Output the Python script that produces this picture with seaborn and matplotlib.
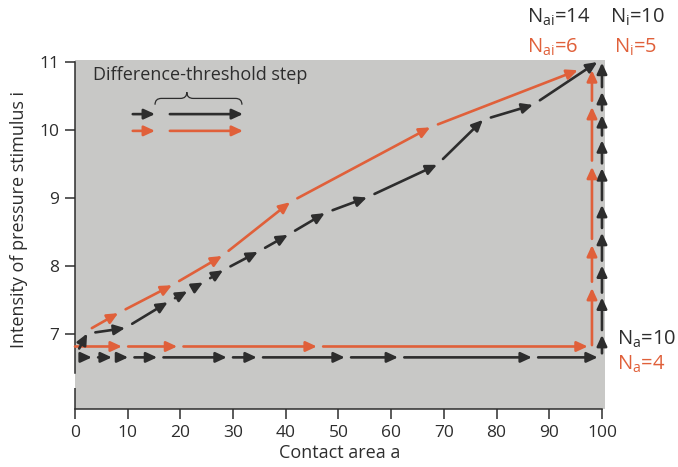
import numpy as np
import matplotlib.pyplot as plt
import seaborn as sns
from matplotlib.path import Path
from matplotlib.patches import PathPatch

# === DATA ===
# stepwise path along contact area a (intensity held constant)
black_a_steps = [1.3, 3.2, 7.0, 10.1, 15.6, 28.8, 34.5, 51.2, 61.3, 86.7, 99.2]
black_a_level = 6.66
red_a_steps = [0.0, 8.9, 19.4, 45.9, 97.3]
red_a_level = 6.82

# stepwise path along intensity i (contact area held constant)
black_i_steps = [6.72, 6.99, 7.54, 8.01, 8.49, 8.90, 9.44, 9.85, 10.22, 10.56, 10.99]
black_i_level = 100.0
red_i_steps = [6.84, 7.68, 8.31, 9.46, 10.34, 10.88]
red_i_level = 98.1

# combined path (a and i changing together)
black_ai_a = [0.8, 2.3, 9.5, 17.6, 21.3, 24.3, 28.1, 34.7, 40.4, 47.4, 55.4, 68.7, 77.4, 86.9, 99.1]
black_ai_i = [6.79, 7.01, 7.09, 7.47, 7.63, 7.76, 7.94, 8.21, 8.46, 8.78, 9.01, 9.49, 10.15, 10.37, 11.0]
red_ai_a = [3.2, 8.2, 18.4, 27.9, 40.8, 67.4, 95.4]
red_ai_i = [7.09, 7.31, 7.72, 8.15, 8.94, 10.04, 10.88]

x_ticks = [0, 10, 20, 30, 40, 50, 60, 70, 80, 90, 100]
y_ticks = [7, 8, 9, 10, 11]

black_counts = {"ai": 14, "i": 10, "a": 10}
red_counts = {"ai": 6, "i": 5, "a": 4}

# === STYLE ===
DARK = "#2d2d2d"
RED = "#e0603a"
BG = "#c8c8c6"
FONT = "Open Sans"

sns.set_theme(style="ticks")
plt.rcParams['font.family'] = [FONT, 'DejaVu Sans']
plt.rcParams['mathtext.fontset'] = 'custom'
plt.rcParams['mathtext.rm'] = FONT

fig = plt.figure(figsize=(6.78, 4.67), dpi=100)
ax = fig.add_axes([0.1106, 0.124, 0.7817, 0.7475])
ax.set_facecolor(BG)
ax.set_xlim(0, 100.57)
ax.set_ylim(5.90, 11.03)


def draw_steps(xs, ys, color, gap):
    for k in range(len(xs) - 1):
        ax.annotate("", xy=(xs[k + 1], ys[k + 1]), xytext=(xs[k], ys[k]),
                    xycoords="data", annotation_clip=False,
                    arrowprops=dict(arrowstyle="-|>,head_length=0.65,head_width=0.3",
                                    color=color, lw=1.9, mutation_scale=10,
                                    shrinkA=0 if k == 0 else gap, shrinkB=0))


draw_steps(black_a_steps, [black_a_level] * len(black_a_steps), DARK, 4.5)
draw_steps(red_a_steps, [red_a_level] * len(red_a_steps), RED, 4.5)
draw_steps([black_i_level] * len(black_i_steps), black_i_steps, DARK, 3.5)
draw_steps([red_i_level] * len(red_i_steps), red_i_steps, RED, 4.5)
draw_steps(black_ai_a, black_ai_i, DARK, 6)
draw_steps(red_ai_a, red_ai_i, RED, 6)

# === axes look ===
for side in ["top", "right"]:
    ax.spines[side].set_visible(False)
ax.spines["left"].set_bounds(6.43, 11)
ax.spines["bottom"].set_bounds(0, 100)
for side in ["left", "bottom"]:
    ax.spines[side].set_color(DARK)
    ax.spines[side].set_linewidth(1.1)
# short lower piece of the broken intensity axis
ax.plot([0, 0], [5.90, 6.21], color=DARK, lw=1.1, clip_on=False, solid_capstyle="butt")

ax.set_xticks(x_ticks)
ax.set_yticks(y_ticks)
ax.tick_params(direction="out", length=7.5, width=1.1, color=DARK,
               labelcolor=DARK, labelsize=12.5, pad=4)
ax.set_xlabel("Contact area a", fontsize=13, color=DARK, labelpad=2)
ax.set_ylabel("Intensity of pressure stimulus i", fontsize=13, color=DARK)
ax.yaxis.set_label_coords(-0.089, 0.544)

# === legend for the threshold step ===
ax.text(0.034, 0.957, "Difference-threshold step", transform=ax.transAxes,
        ha="left", va="center", fontsize=13, color=DARK)
for y, col in [(0.845, DARK), (0.797, RED)]:
    for x0, x1 in [(0.109, 0.151), (0.179, 0.317)]:
        ax.annotate("", xy=(x1, y), xytext=(x0, y), xycoords="axes fraction",
                    arrowprops=dict(arrowstyle="-|>,head_length=0.65,head_width=0.3",
                                    color=col, lw=1.9, mutation_scale=10,
                                    shrinkA=0, shrinkB=0))

x0, x1, xc = 0.151, 0.315, 0.211
yb, yt, yp = 0.872, 0.890, 0.908
rx = 0.012
verts = [(x0, yb), (x0, yt), (x0 + rx, yt), (xc - rx, yt), (xc, yt), (xc, yp),
         (xc, yt), (xc + rx, yt), (x1 - rx, yt), (x1, yt), (x1, yb)]
codes = [Path.MOVETO, Path.CURVE3, Path.CURVE3, Path.LINETO, Path.CURVE3, Path.CURVE3,
         Path.CURVE3, Path.CURVE3, Path.LINETO, Path.CURVE3, Path.CURVE3]
ax.add_patch(PathPatch(Path(verts, codes), transform=ax.transAxes, fill=False,
                       edgecolor=DARK, lw=0.9))

# === step counts ===
def n_label(sub, val):
    return r"N$_{\mathregular{" + sub + r"}}$=" + str(val)


fig.text(0.777, 0.951, n_label("ai", black_counts["ai"]), fontsize=14.5, color=DARK, va="baseline")
fig.text(0.900, 0.951, n_label("i", black_counts["i"]), fontsize=14.5, color=DARK, va="baseline")
fig.text(0.777, 0.887, n_label("ai", red_counts["ai"]), fontsize=14.5, color=RED, va="baseline")
fig.text(0.905, 0.887, n_label("i", red_counts["i"]), fontsize=14.5, color=RED, va="baseline")
fig.text(0.910, 0.261, n_label("a", black_counts["a"]), fontsize=14.5, color=DARK, va="baseline")
fig.text(0.910, 0.208, n_label("a", red_counts["a"]), fontsize=14.5, color=RED, va="baseline")

fig.savefig("out.png", dpi=100)
